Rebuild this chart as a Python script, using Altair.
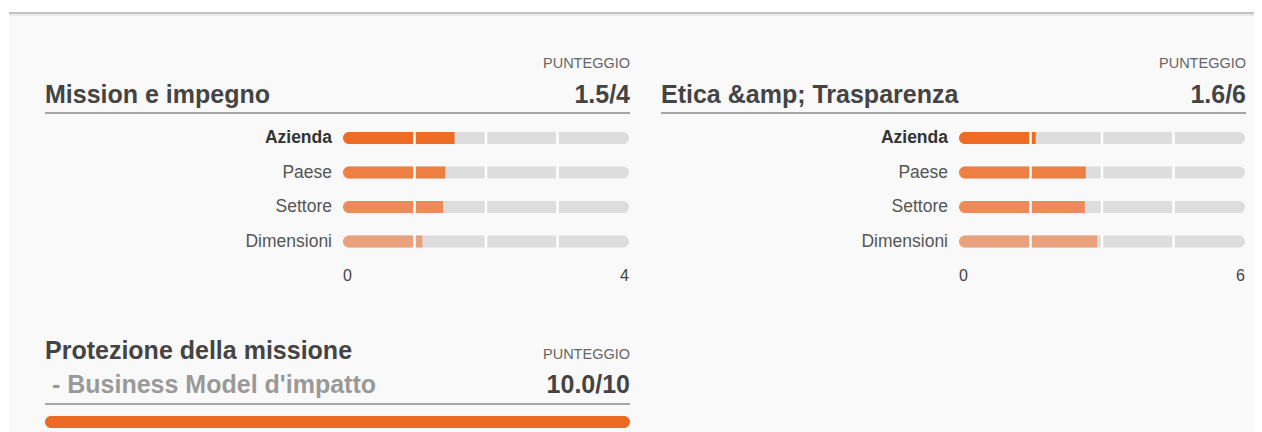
import altair as alt
import pandas as pd

# ---------------- data ----------------
categories = ["Azienda", "Paese", "Settore", "Dimensioni"]
mission_values = [1.56, 1.43, 1.40, 1.11]
etica_values = [1.61, 2.66, 2.64, 2.90]
mission_max = 4
etica_max = 6
protezione_value = 10.0
protezione_max = 10
bar_colors = ["#ED6B25", "#EE7E42", "#EB8B5C", "#E9A07C"]
titles = ["Mission e impegno", "Etica &amp; Trasparenza"]
score_labels = ["1.5/4", "1.6/6"]
prot_title_lines = ["Protezione della missione", "- Business Model d'impatto"]
prot_score = "10.0/10"
score_caption = "PUNTEGGIO"

# ---------------- layout ----------------
W, H = 1246, 424
FONT = "Liberation Sans"
DARK = "#444444"
PANEL_BG = "#F9F9F9"
TITLE_SIZE = 25
one = pd.DataFrame({"k": [0]})


def text_layer(txt, x, y, size, weight="normal", color=DARK, align="left", baseline="alphabetic"):
    return alt.Chart(pd.DataFrame({"t": [txt]})).mark_text(
        align=align, baseline=baseline, font=FONT, fontSize=size, fontWeight=weight, color=color
    ).encode(x=alt.value(x), y=alt.value(y), text="t:N")


def rule_layer(x1, x2, y, color, width):
    return alt.Chart(one).mark_rule(color=color, strokeWidth=width).encode(
        x=alt.value(x1), x2=alt.value(x2), y=alt.value(y)
    )


def bar_panel(values, vmax, x0, title, score):
    layers = []
    layers.append(text_layer(score_caption, x0 + 585, 60, 14.5, color="#666666", align="right"))
    layers.append(text_layer(title, x0, 95, TITLE_SIZE, weight="bold"))
    layers.append(text_layer(score, x0 + 585, 95, TITLE_SIZE, weight="bold", align="right"))
    layers.append(rule_layer(x0, x0 + 585, 105, "#555555", 1.2))

    xs = alt.Scale(domain=[0, vmax], range=[x0 + 298, x0 + 584], nice=False, zero=True)
    ys = alt.Scale(domain=categories, range=[112.75, 250.75], paddingInner=0, paddingOuter=0)
    df = pd.DataFrame({"cat": categories, "value": values, "max": [vmax] * len(categories)})

    yenc = alt.Y("cat:N", scale=ys, axis=None)
    layers.append(alt.Chart(df).mark_bar(size=12, cornerRadius=6, color="#DDDDDD").encode(
        x=alt.X("max:Q", scale=xs, axis=None, stack=None), y=yenc))
    layers.append(alt.Chart(df).mark_bar(size=12, cornerRadiusTopLeft=6, cornerRadiusBottomLeft=6).encode(
        x=alt.X("value:Q", scale=xs, axis=None, stack=None), y=yenc,
        color=alt.Color("cat:N", scale=alt.Scale(domain=categories, range=bar_colors), legend=None)))
    sep_df = pd.DataFrame([{"cat": c, "q": vmax * k / 4} for c in categories for k in (1, 2, 3)])
    layers.append(alt.Chart(sep_df).mark_tick(size=13, thickness=2.5, color="#FFFFFF", opacity=1).encode(
        x=alt.X("q:Q", scale=xs, axis=None), y=yenc))
    is_az = alt.datum.cat == "Azienda"
    layers.append(alt.Chart(df).transform_filter(is_az).mark_text(
        align="right", baseline="middle", font=FONT, fontSize=17.5, fontWeight="bold", color="#333333").encode(
        x=alt.value(x0 + 287), y=yenc, text="cat:N"))
    layers.append(alt.Chart(df).transform_filter(alt.datum.cat != "Azienda").mark_text(
        align="right", baseline="middle", font=FONT, fontSize=17.5, color="#555555").encode(
        x=alt.value(x0 + 287), y=yenc, text="cat:N"))
    tick_df = pd.DataFrame({"v": [0, vmax], "t": ["0", str(vmax)]})
    layers.append(alt.Chart(tick_df).transform_filter(alt.datum.v == 0).mark_text(
        align="left", baseline="alphabetic", font=FONT, fontSize=16, color=DARK).encode(
        x=alt.X("v:Q", scale=xs, axis=None), y=alt.value(273), text="t:N"))
    layers.append(alt.Chart(tick_df).transform_filter(alt.datum.v > 0).mark_text(
        align="right", baseline="alphabetic", font=FONT, fontSize=16, color=DARK).encode(
        x=alt.X("v:Q", scale=xs, axis=None), y=alt.value(273), text="t:N"))
    return layers


layers = []
# panel background & top shadow line
layers.append(alt.Chart(one).mark_rect(color=PANEL_BG).encode(
    x=alt.value(1), x2=alt.value(W), y=alt.value(5), y2=alt.value(H)))
layers.append(rule_layer(1, W, 5, "#C2C2C2", 2))
layers.append(rule_layer(1, W, 7, "#E4E4E4", 1.5))

layers += bar_panel(mission_values, mission_max, 37, titles[0], score_labels[0])
layers += bar_panel(etica_values, etica_max, 653, titles[1], score_labels[1])

# bottom panel
layers.append(text_layer(prot_title_lines[0], 37, 351, TITLE_SIZE, weight="bold"))
layers.append(text_layer(prot_title_lines[1], 44, 385, TITLE_SIZE, weight="bold", color="#999999"))
layers.append(text_layer(score_caption, 622, 351, 14.5, color="#666666", align="right"))
layers.append(text_layer(prot_score, 622, 385, TITLE_SIZE, weight="bold", align="right"))
layers.append(rule_layer(37, 622, 396, "#555555", 1.2))
prot_df = pd.DataFrame({"start": [0.0], "value": [protezione_value]})
prot_scale = alt.Scale(domain=[0, protezione_max], range=[37, 622], nice=False)
layers.append(alt.Chart(prot_df).mark_rect(cornerRadius=6, color="#ED6A25").encode(
    x=alt.X("start:Q", scale=prot_scale, axis=None),
    x2="value:Q",
    y=alt.value(408), y2=alt.value(420)))

chart = alt.layer(*layers).resolve_scale(x="independent", y="independent", color="independent").properties(
    width=W, height=H, padding=0, autosize="none", background="white"
).configure_view(stroke=None)

chart.save("out.html", embed_options={"renderer": "svg", "actions": False})
